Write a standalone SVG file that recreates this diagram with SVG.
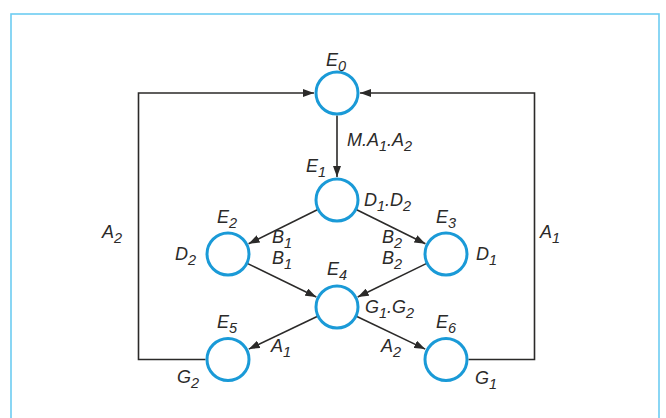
<svg xmlns="http://www.w3.org/2000/svg" width="666" height="418" viewBox="0 0 666 418">
<style>
.n{fill:#fff;stroke:#1a9ad7;stroke-width:3}
.c{fill:none;stroke:#2b2a29;stroke-width:1.6}
.t{font-family:"Liberation Sans","Open Sans",sans-serif;font-style:italic;font-size:18px;fill:#2b2a29}
.s{font-size:14.5px}
</style>
<defs>
<marker id="ah" markerUnits="userSpaceOnUse" markerWidth="12" markerHeight="8" refX="11" refY="4" orient="auto">
<path d="M0,0 L11,4 L0,8 Z" fill="#2b2a29"/>
</marker>
</defs>
<rect x="0" y="0" width="666" height="418" fill="#fff"/>
<rect x="11" y="14" width="648" height="420" fill="none" stroke="#6dccf2" stroke-width="1.6"/>
<g id="connectors">
<path class="c" d="M337,115.5 V177" marker-end="url(#ah)"/>
<path class="c" d="M317.3,209.8 L248.6,243.8" marker-end="url(#ah)"/>
<path class="c" d="M356.7,209.8 L425.4,243.8" marker-end="url(#ah)"/>
<path class="c" d="M247.8,263.6 L316.3,297" marker-end="url(#ah)"/>
<path class="c" d="M426.2,263.6 L357.7,297" marker-end="url(#ah)"/>
<path class="c" d="M317.1,316.5 L248.8,349.1" marker-end="url(#ah)"/>
<path class="c" d="M356.9,316.5 L425.2,349.1" marker-end="url(#ah)"/>
<path class="c" d="M205.5,359.5 H138.5 V93 H314" marker-end="url(#ah)"/>
<path class="c" d="M468.5,359.5 H534.5 V93 H360" marker-end="url(#ah)"/>
</g>
<g id="E0"><circle class="n" cx="337" cy="93" r="21"/><text class="t" x="326" y="66">E<tspan class="s" dy="5">0</tspan></text></g>
<g id="E1"><circle class="n" cx="337" cy="200" r="21"/><text class="t" x="306" y="172">E<tspan class="s" dy="5">1</tspan></text></g>
<g id="E2"><circle class="n" cx="228" cy="254" r="21"/><text class="t" x="217" y="223">E<tspan class="s" dy="5">2</tspan></text></g>
<g id="E3"><circle class="n" cx="446" cy="254" r="21"/><text class="t" x="436" y="223">E<tspan class="s" dy="5">3</tspan></text></g>
<g id="E4"><circle class="n" cx="337" cy="307" r="21"/><text class="t" x="327" y="275">E<tspan class="s" dy="5">4</tspan></text></g>
<g id="E5"><circle class="n" cx="228" cy="359.5" r="21"/><text class="t" x="217" y="328">E<tspan class="s" dy="5">5</tspan></text></g>
<g id="E6"><circle class="n" cx="446" cy="359.5" r="21"/><text class="t" x="436" y="328">E<tspan class="s" dy="5">6</tspan></text></g>
<g id="labels">
<text class="t" x="347" y="146">M.A<tspan class="s" dy="5">1</tspan><tspan dy="-5">.A</tspan><tspan class="s" dy="5">2</tspan></text>
<text class="t" x="364" y="206">D<tspan class="s" dy="5">1</tspan><tspan dy="-5">.D</tspan><tspan class="s" dy="5">2</tspan></text>
<text class="t" x="175" y="260">D<tspan class="s" dy="5">2</tspan></text>
<text class="t" x="476" y="260">D<tspan class="s" dy="5">1</tspan></text>
<text class="t" x="272" y="243">B<tspan class="s" dy="5">1</tspan></text>
<text class="t" x="272" y="264">B<tspan class="s" dy="5">1</tspan></text>
<text class="t" x="382" y="243">B<tspan class="s" dy="5">2</tspan></text>
<text class="t" x="382" y="264">B<tspan class="s" dy="5">2</tspan></text>
<text class="t" x="365" y="313">G<tspan class="s" dy="5">1</tspan><tspan dy="-5">.G</tspan><tspan class="s" dy="5">2</tspan></text>
<text class="t" x="271" y="352">A<tspan class="s" dy="5">1</tspan></text>
<text class="t" x="381" y="352">A<tspan class="s" dy="5">2</tspan></text>
<text class="t" x="177" y="383">G<tspan class="s" dy="5">2</tspan></text>
<text class="t" x="475" y="384">G<tspan class="s" dy="5">1</tspan></text>
<text class="t" x="102" y="238">A<tspan class="s" dy="5">2</tspan></text>
<text class="t" x="540" y="238">A<tspan class="s" dy="5">1</tspan></text>
</g>
</svg>
